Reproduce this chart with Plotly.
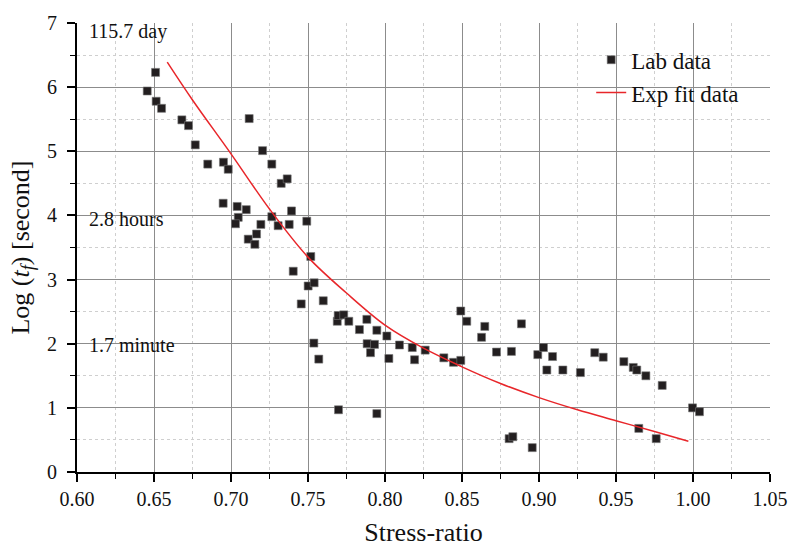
import plotly.graph_objects as go

# Lab data (stress ratio, log time)
lab_x = [0.6456, 0.6510, 0.6514, 0.6549, 0.6681, 0.6724, 0.6768, 0.6849, 0.6951, 0.6982,
         0.7118, 0.7205, 0.7265, 0.7326, 0.7365, 0.6949, 0.7040, 0.7099, 0.7047, 0.7029,
         0.7265, 0.7194, 0.7306, 0.7378, 0.7393, 0.7492, 0.7112, 0.7166, 0.7155, 0.7518,
         0.7404, 0.7501, 0.7540, 0.7599, 0.7456, 0.7690, 0.7696, 0.7732, 0.7765, 0.7882,
         0.7834, 0.7947, 0.8012, 0.7884, 0.7932, 0.7906, 0.7538, 0.7570, 0.8094, 0.8177,
         0.8025, 0.8192, 0.8261, 0.8382, 0.8445, 0.8492, 0.8492, 0.8531, 0.8648, 0.8627,
         0.8724, 0.8821, 0.8886, 0.7698, 0.7947, 0.8992, 0.9029, 0.9088, 0.9051, 0.9155,
         0.9269, 0.9362, 0.9417, 0.9551, 0.9612, 0.9635, 0.9694, 0.9800, 0.9997, 1.0042,
         0.9648, 0.9761, 0.8806, 0.8830, 0.8956]
lab_y = [5.94, 6.23, 5.78, 5.67, 5.49, 5.40, 5.10, 4.80, 4.83, 4.72,
         5.51, 5.01, 4.80, 4.50, 4.57, 4.19, 4.14, 4.09, 3.97, 3.87,
         3.98, 3.86, 3.84, 3.86, 4.07, 3.91, 3.63, 3.71, 3.55, 3.36,
         3.13, 2.90, 2.95, 2.67, 2.62, 2.35, 2.44, 2.45, 2.35, 2.38,
         2.22, 2.21, 2.12, 2.00, 1.99, 1.86, 2.01, 1.76, 1.98, 1.94,
         1.77, 1.75, 1.90, 1.78, 1.71, 1.74, 2.51, 2.35, 2.27, 2.10,
         1.87, 1.88, 2.31, 0.97, 0.91, 1.83, 1.94, 1.80, 1.59, 1.59,
         1.55, 1.86, 1.79, 1.72, 1.63, 1.59, 1.50, 1.35, 1.00, 0.94,
         0.68, 0.52, 0.52, 0.55, 0.38]

# Exp fit curve
fit_x = [0.6586, 0.675, 0.70, 0.725, 0.75, 0.775, 0.80, 0.825, 0.85, 0.875,
         0.90, 0.925, 0.95, 0.975, 0.997]
fit_y = [6.39, 5.80, 4.96, 4.10, 3.35, 2.79, 2.29, 1.93, 1.64, 1.38,
         1.16, 0.97, 0.80, 0.63, 0.48]

x_ticks = [0.60, 0.65, 0.70, 0.75, 0.80, 0.85, 0.90, 0.95, 1.00, 1.05]
y_ticks = [0, 1, 2, 3, 4, 5, 6, 7]

notes = ["115.7 day", "2.8 hours", "1.7 minute"]
note_y = [6.87, 3.95, 1.98]

FONT = "Liberation Serif, Times New Roman, serif"

fig = go.Figure()
fig.add_trace(go.Scatter(
    x=lab_x, y=lab_y, mode="markers", name="Lab data",
    marker=dict(symbol="square", size=8, color="#231f20",
                line=dict(color="#777777", width=0.6)),
))
fig.add_trace(go.Scatter(
    x=fit_x, y=fit_y, mode="lines", name="Exp fit data",
    line=dict(color="#e8262a", width=1.5, shape="spline"),
))

for t, yy in zip(notes, note_y):
    fig.add_annotation(x=0.6066, y=yy, text=t, showarrow=False,
                       xanchor="left", yanchor="middle",
                       font=dict(family=FONT, size=20, color="#111"))

axis_common = dict(
    showline=True, linecolor="black", linewidth=2,
    ticks="outside", ticklen=8, tickwidth=1.5, tickcolor="black",
    showgrid=True, gridcolor="#8c8c8c", gridwidth=1,
    zeroline=False, mirror=False, automargin=False,
    tickfont=dict(family=FONT, size=20, color="#111"),
)

fig.update_xaxes(
    range=[0.6, 1.05], tickvals=x_ticks, tickformat=".2f",
    title=dict(text="Stress-ratio", font=dict(family=FONT, size=26, color="#111"), standoff=22),
    minor=dict(ticklen=5, tickwidth=1.2, tickcolor="black", showgrid=True,
               gridcolor="#cfcfcf", griddash="dot", gridwidth=1, dtick=0.025),
    **axis_common,
)
fig.update_yaxes(
    range=[0, 7], tickvals=y_ticks, ticklabelstandoff=6,
    title=dict(text="Log (<i>t</i><sub><i>f</i></sub>) [second]",
               font=dict(family=FONT, size=26, color="#111"), standoff=10),
    minor=dict(ticklen=5, tickwidth=1.2, tickcolor="black", showgrid=True,
               gridcolor="#cfcfcf", griddash="dot", gridwidth=1, dtick=0.5),
    **axis_common,
)

fig.update_layout(
    width=790, height=547,
    margin=dict(l=77, r=20, t=23, b=75),
    plot_bgcolor="white", paper_bgcolor="white",
    font=dict(family=FONT),
    showlegend=True,
    legend=dict(x=0.742, y=0.966, xanchor="left", yanchor="top",
                bgcolor="rgba(0,0,0,0)", borderwidth=0,
                font=dict(family=FONT, size=23, color="#111"),
                itemwidth=30),
)

fig.write_html("out.html")
